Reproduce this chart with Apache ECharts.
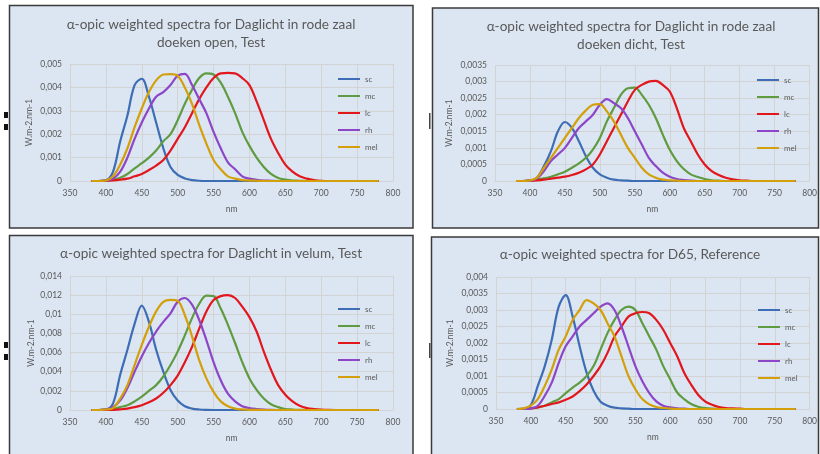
<!DOCTYPE html>
<html>
<head>
<meta charset="utf-8">
<script src="https://cdn.jsdelivr.net/npm/echarts@6/dist/echarts.min.js"></script>
<style>html,body{margin:0;padding:0;background:#fff;}#c{width:820px;height:454px;}</style>
</head>
<body>
<div id="c"></div>
<script>
// Wavelengths (nm), 380..780 step 10
const wavelengths = [380,390,400,410,420,430,440,450,460,470,480,490,500,510,520,530,540,550,560,570,580,590,600,610,620,630,640,650,660,670,680,690,700,710,720,730,740,750,760,770,780];
const seriesNames = ['sc','mc','lc','rh','mel'];
const panelTitles = [
  'α-opic weighted spectra for Daglicht in rode zaal\ndoeken open, Test',
  'α-opic weighted spectra for Daglicht in rode zaal\ndoeken dicht, Test',
  'α-opic weighted spectra for Daglicht in velum, Test',
  'α-opic weighted spectra for D65, Reference'
];
const xTicks = [350,400,450,500,550,600,650,700,750,800];
const yMax = [0.005, 0.0035, 0.014, 0.004];
const yStep = [0.001, 0.0005, 0.002, 0.0005];

// Panel 1: doeken open
const openSc  = [0,0,0.00003,0.0004,0.0017,0.0028,0.0041,0.00437,0.0036,0.0025,0.0014,0.0006,0.00026,0.00011,0.00004,0.00001,0,0,0,0,0,0,0,0,0,0,0,0,0,0,0,0,0,0,0,0,0,0,0,0,0];
const openMc  = [0,0,0.00002,0.00006,0.00014,0.0003,0.00054,0.00076,0.001,0.0013,0.0017,0.002,0.0026,0.0033,0.0039,0.0044,0.0046,0.00455,0.0042,0.0036,0.0029,0.0021,0.0015,0.001,0.0006,0.0003,0.00013,0.00006,0.00002,0.00001,0,0,0,0,0,0,0,0,0,0,0];
const openLc  = [0,0,0.00001,0.00003,0.00006,0.0001,0.0002,0.0003,0.00047,0.00066,0.0009,0.0013,0.0018,0.0023,0.0029,0.0035,0.004,0.0044,0.0046,0.00462,0.0046,0.0044,0.0041,0.0034,0.0026,0.0018,0.0012,0.0007,0.0004,0.0002,0.0001,0.00004,0.00001,0,0,0,0,0,0,0,0];
const openRh  = [0,0,0.00002,0.0001,0.0004,0.001,0.0018,0.0025,0.0031,0.0036,0.0038,0.0041,0.0045,0.00458,0.0041,0.0035,0.0029,0.0021,0.0014,0.0008,0.0005,0.0002,0.0001,0.00005,0.00002,0.00001,0,0,0,0,0,0,0,0,0,0,0,0,0,0,0];
const openMel = [0,0,0.00002,0.0002,0.0007,0.0014,0.0023,0.0031,0.0038,0.0043,0.00455,0.00457,0.0045,0.004,0.0033,0.0024,0.0016,0.0009,0.0005,0.0002,0.0001,0.00004,0.00002,0.00001,0,0,0,0,0,0,0,0,0,0,0,0,0,0,0,0,0];

// Panel 2: doeken dicht
const dichtSc  = [0,0,0,0.0001,0.00045,0.0009,0.0015,0.00178,0.0016,0.0012,0.00075,0.0004,0.0002,0.0001,0.00004,0.00002,0.00001,0,0,0,0,0,0,0,0,0,0,0,0,0,0,0,0,0,0,0,0,0,0,0,0];
const dichtMc  = [0,0,0.00002,0.00004,0.00008,0.00013,0.0002,0.00028,0.0004,0.00053,0.0007,0.00095,0.0013,0.0018,0.0022,0.0026,0.0028,0.00282,0.0026,0.0023,0.0019,0.0014,0.00094,0.0006,0.00036,0.0002,0.00012,0.00006,0.00002,0.00001,0,0,0,0,0,0,0,0,0,0,0];
const dichtLc  = [0,0,0.00001,0.00002,0.00004,0.00007,0.0001,0.00013,0.00018,0.00025,0.00035,0.0005,0.0008,0.0012,0.0016,0.002,0.0024,0.00275,0.0029,0.003,0.00302,0.0029,0.0027,0.0022,0.0016,0.0012,0.0008,0.0005,0.0003,0.00018,0.0001,0.00005,0.00002,0.00001,0,0,0,0,0,0,0];
const dichtRh  = [0,0,0.00001,0.00008,0.0003,0.0006,0.0008,0.001,0.0013,0.0016,0.0018,0.002,0.0023,0.00247,0.00235,0.0022,0.0019,0.0015,0.0011,0.0007,0.00045,0.00025,0.00013,0.00006,0.00003,0.00001,0,0,0,0,0,0,0,0,0,0,0,0,0,0,0];
const dichtMel = [0,0,0.00002,0.0001,0.0004,0.0007,0.001,0.0013,0.0016,0.0019,0.00213,0.0023,0.00232,0.0021,0.0018,0.0014,0.001,0.0007,0.0004,0.0002,0.0001,0.00004,0.00002,0.00001,0,0,0,0,0,0,0,0,0,0,0,0,0,0,0,0,0];

// Panel 3: velum
const velumSc  = [0,0,0.00005,0.0007,0.0037,0.0063,0.009,0.0109,0.0092,0.0063,0.004,0.0021,0.001,0.0004,0.00015,0.00005,0.00001,0,0,0,0,0,0,0,0,0,0,0,0,0,0,0,0,0,0,0,0,0,0,0,0];
const velumMc  = [0,0,0.00005,0.0001,0.0003,0.0005,0.0009,0.0014,0.002,0.0026,0.0035,0.0047,0.0061,0.0078,0.0096,0.0111,0.01195,0.0119,0.0106,0.0089,0.007,0.005,0.0033,0.0021,0.0012,0.0006,0.0003,0.0001,0.00005,0.00002,0,0,0,0,0,0,0,0,0,0,0];
const velumLc  = [0,0,0.00001,0.00002,0.00007,0.00015,0.0003,0.0005,0.0008,0.0012,0.0018,0.0026,0.0036,0.005,0.0066,0.0085,0.0103,0.0115,0.0119,0.012,0.0117,0.0108,0.0097,0.0082,0.0061,0.0042,0.0026,0.0016,0.0009,0.00045,0.0002,0.0001,0.00004,0.00001,0,0,0,0,0,0,0];
const velumRh  = [0,0,0.00005,0.0003,0.001,0.0023,0.004,0.0056,0.007,0.0082,0.0092,0.0101,0.0113,0.0117,0.011,0.0094,0.0073,0.005,0.0031,0.0017,0.0009,0.0004,0.0002,0.0001,0.00004,0.00001,0,0,0,0,0,0,0,0,0,0,0,0,0,0,0];
const velumMel = [0,0,0.00005,0.0002,0.0012,0.0026,0.0047,0.0068,0.0087,0.0103,0.0113,0.0115,0.0114,0.0099,0.0077,0.0052,0.0033,0.0019,0.0009,0.0004,0.00015,0.00006,0.00002,0.00001,0,0,0,0,0,0,0,0,0,0,0,0,0,0,0,0,0];

// Panel 4: D65 reference
const d65Sc  = [0,0.00001,0.00012,0.0007,0.0013,0.0021,0.0031,0.00345,0.0028,0.0019,0.0011,0.00055,0.00022,0.0001,0.00004,0.00002,0.00001,0,0,0,0,0,0,0,0,0,0,0,0,0,0,0,0,0,0,0,0,0,0,0,0];
const d65Mc  = [0,0,0.00002,0.00005,0.0001,0.0002,0.0003,0.00048,0.00065,0.0008,0.001,0.0013,0.0018,0.0023,0.0027,0.003,0.0031,0.003,0.0026,0.0022,0.0018,0.0013,0.0009,0.0005,0.0003,0.00015,0.00007,0.00003,0.00001,0,0,0,0,0,0,0,0,0,0,0,0];
const d65Lc  = [0,0,0.00002,0.00005,0.0001,0.00015,0.0002,0.00028,0.00038,0.00054,0.00074,0.001,0.0013,0.0017,0.0022,0.0025,0.0028,0.0029,0.00294,0.0029,0.0027,0.0024,0.002,0.0016,0.0011,0.00074,0.00043,0.00023,0.00013,0.00006,0.00003,0.00002,0.00001,0,0,0,0,0,0,0,0];
const d65Rh  = [0,0,0.00002,0.0001,0.0004,0.0008,0.0014,0.0019,0.0022,0.0025,0.0027,0.0029,0.0031,0.0032,0.003,0.0025,0.0019,0.0013,0.00084,0.00048,0.00023,0.0001,0.00005,0.00002,0.00001,0,0,0,0,0,0,0,0,0,0,0,0,0,0,0,0];
const d65Mel = [0,0.00002,0.0001,0.0003,0.0007,0.0012,0.0018,0.0022,0.0027,0.003,0.0033,0.0032,0.003,0.0026,0.0022,0.0016,0.001,0.0006,0.0003,0.00014,0.00006,0.00003,0.00001,0,0,0,0,0,0,0,0,0,0,0,0,0,0,0,0,0,0];

const panelData = [
  [openSc, openMc, openLc, openRh, openMel],
  [dichtSc, dichtMc, dichtLc, dichtRh, dichtMel],
  [velumSc, velumMc, velumLc, velumRh, velumMel],
  [d65Sc, d65Mc, d65Lc, d65Rh, d65Mel]
];

// ---- styling / layout ----
const colors = ['#3d6db5', '#5f9b41', '#e2171e', '#8c46c7', '#d39f0a'];
const FONT = 'Lato, "Liberation Sans", sans-serif';
const TXT = '#595959';
const GRIDC = '#d3d3d3';
const grids = [
  {left: 70, top: 64, width: 323, height: 117},
  {left: 495, top: 65, width: 317, height: 116},
  {left: 70, top: 276, width: 323, height: 134},
  {left: 496, top: 277, width: 315, height: 132}
];
const titlePos = [[211, 16], [631, 18], [211, 245], [630, 246]];
const legendPos = [[338, 74], [757, 75], [338, 304], [758, 305]];
const yNameGap = [36, 41, 34, 41];
const panels = [
  {x: 9.5, y: 5.5, w: 403.5, h: 222.5},
  {x: 432.5, y: 8, w: 386, h: 220},
  {x: 9.5, y: 235.5, w: 403.5, h: 230},
  {x: 431.5, y: 237, w: 387, h: 230}
];

function fmt(v) {
  return String(Number(v.toPrecision(6))).replace('.', ',');
}

const option = {
  animation: false,
  backgroundColor: '#ffffff',
  textStyle: {fontFamily: FONT},
  graphic: [
    ...panels.map(p => ({type: 'rect', z: -10, silent: true,
      shape: {x: p.x, y: p.y, width: p.w, height: p.h},
      style: {fill: '#dce6f2', stroke: '#3a3a3a', lineWidth: 1.5}})),
    {type: 'rect', z: -5, silent: true, shape: {x: 4, y: 112, width: 4, height: 6}, style: {fill: '#111'}},
    {type: 'rect', z: -5, silent: true, shape: {x: 4, y: 124, width: 4, height: 6}, style: {fill: '#111'}},
    {type: 'rect', z: -5, silent: true, shape: {x: 4, y: 342, width: 4, height: 6}, style: {fill: '#111'}},
    {type: 'rect', z: -5, silent: true, shape: {x: 4, y: 354, width: 4, height: 6}, style: {fill: '#111'}},
    {type: 'rect', z: -5, silent: true, shape: {x: 429, y: 113, width: 1.5, height: 16}, style: {fill: '#444'}},
    {type: 'rect', z: -5, silent: true, shape: {x: 429, y: 343, width: 1.5, height: 15}, style: {fill: '#444'}}
  ],
  title: panelTitles.map((t, i) => ({
    text: t, left: titlePos[i][0], top: titlePos[i][1], textAlign: 'center', padding: 0,
    textStyle: {fontFamily: FONT, fontSize: 13.6, fontWeight: 'normal', color: TXT, lineHeight: 18}
  })),
  legend: legendPos.map(p => ({
    data: seriesNames, orient: 'vertical', left: p[0], top: p[1], padding: 0,
    icon: 'rect', itemWidth: 22, itemHeight: 2, itemGap: 7, selectedMode: false,
    textStyle: {fontFamily: FONT, fontSize: 8, color: TXT, lineHeight: 10}
  })),
  grid: grids.map(g => Object.assign({containLabel: false}, g)),
  xAxis: grids.map((g, i) => ({
    gridIndex: i, type: 'value', min: xTicks[0], max: xTicks[xTicks.length - 1], interval: 50,
    axisLine: {show: true, lineStyle: {color: GRIDC, width: 1}},
    axisTick: {show: false},
    splitLine: {show: true, lineStyle: {color: GRIDC, width: 1}},
    axisLabel: {color: TXT, fontSize: 8.5, fontFamily: FONT, margin: 8},
    name: 'nm', nameLocation: 'middle', nameGap: 24,
    nameTextStyle: {color: TXT, fontSize: 8.5, fontFamily: FONT}
  })),
  yAxis: grids.map((g, i) => ({
    gridIndex: i, type: 'value', min: 0, max: yMax[i], interval: yStep[i],
    axisLine: {show: false}, axisTick: {show: false},
    splitLine: {show: true, lineStyle: {color: GRIDC, width: 1}},
    axisLabel: {color: TXT, fontSize: 8.5, fontFamily: FONT, margin: 8, formatter: fmt},
    name: 'W.m-2.nm-1', nameLocation: 'middle', nameGap: yNameGap[i],
    nameTextStyle: {color: TXT, fontSize: 8.5, fontFamily: FONT}
  })),
  series: []
};

panelData.forEach((arrs, pi) => {
  arrs.forEach((arr, si) => {
    option.series.push({
      type: 'line', name: seriesNames[si], xAxisIndex: pi, yAxisIndex: pi,
      data: wavelengths.map((w, k) => [w, arr[k]]),
      showSymbol: false, smooth: 0.35, clip: true,
      lineStyle: {color: colors[si], width: 2.2},
      itemStyle: {color: colors[si]},
      emphasis: {disabled: true}
    });
  });
});

const chart = echarts.init(document.getElementById('c'), null, {renderer: 'canvas'});
chart.setOption(option);
</script>
</body>
</html>
